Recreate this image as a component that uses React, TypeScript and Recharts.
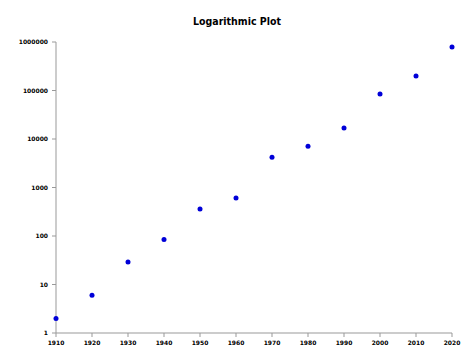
import { ScatterChart, Scatter, XAxis, YAxis } from 'recharts';

const years = [1910, 1920, 1930, 1940, 1950, 1960, 1970, 1980, 1990, 2000, 2010, 2020];
const values = [2, 6, 29, 85, 360, 610, 4200, 7100, 16800, 85000, 200000, 790000];
const yTicks = [1, 10, 100, 1000, 10000, 100000, 1000000];
const xTicks = [1910, 1920, 1930, 1940, 1950, 1960, 1970, 1980, 1990, 2000, 2010, 2020];

const data = years.map((year, i) => ({ year, value: values[i] }));

const tickStyle = { fontFamily: 'DejaVu Sans', fontSize: 6, fontWeight: 'bold', fill: '#000' };

export default function App() {
  return (
    <div style={{ position: 'absolute', left: 0, top: 0, width: 474, height: 355, background: '#fff' }}>
      <div
        style={{
          position: 'absolute',
          top: 15,
          left: 0,
          width: 474,
          textAlign: 'center',
          fontFamily: '"DejaVu Sans Condensed", "DejaVu Sans"',
          fontSize: 10.5,
          fontWeight: 'bold',
          color: '#000',
        }}
      >
        Logarithmic Plot
      </div>
      <ScatterChart width={474} height={355} margin={{ top: 42, right: 22, bottom: 0, left: 0 }}>
        <XAxis
          type="number"
          dataKey="year"
          domain={[1910, 2020]}
          ticks={xTicks}
          height={22}
          tickSize={4}
          tickMargin={4}
          stroke="#999"
          tick={tickStyle}
        />
        <YAxis
          type="number"
          dataKey="value"
          scale="log"
          domain={[1, 1000000]}
          ticks={yTicks}
          width={56}
          tickSize={4}
          tickMargin={4}
          stroke="#999"
          tick={tickStyle}
          allowDataOverflow
        />
        <Scatter data={data} fill="#0000d8" shape={(p: any) => <circle cx={p.cx} cy={p.cy} r={2.5} fill="#0000d8" />} isAnimationActive={false} />
      </ScatterChart>
    </div>
  );
}
